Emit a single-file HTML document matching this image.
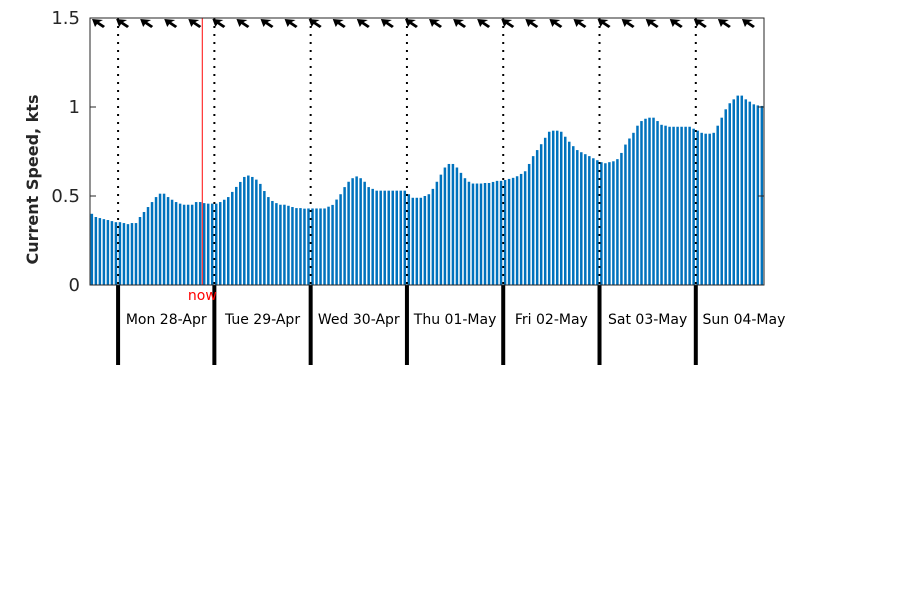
<!DOCTYPE html>
<html><head><meta charset="utf-8"><style>
body{margin:0;background:#fff;}
svg{display:block;font-family:"DejaVu Sans","Liberation Sans",sans-serif;}
</style></head><body>
<svg id="chart" width="900" height="600"></svg>
<script>
const speeds=[.40,.382,.376,.370,.365,.359,.353,.353,.348,.342,.348,.348,.382,.41,.438,.466,.494,.513,.513,.494,.479,.466,.457,.451,.451,.451,.466,.466,.46,.457,.457,.457,.466,.479,.494,.523,.551,.579,.607,.615,.607,.592,.568,.528,.494,.472,.46,.451,.451,.445,.438,.432,.432,.429,.43,.43,
.43,.43,.43,.44,.45,.48,.51,.55,.58,.60,.61,.60,.58,.55,.54,.53,.53,.53,.53,.53,.53,.53,.53,
.51,.49,.49,.49,.50,.51,.54,.58,.62,.66,.68,.68,.66,.63,.60,.58,.57,.57,.57,
.573,.573,.579,.585,.585,.590,.596,.602,.611,.624,.639,.680,.724,.758,.791,.827,.861,.867,.867,.861,.833,.805,.780,.758,.746,.735,.724,.712,.701,.690,.684,.690,.695,.707,.742,.789,.823,.855,.895,.921,.934,.940,.940,.921,.900,.895,.889,.889,.889,.889,.889,.889,.878,.867,.855,.850,.850,.855,.895,.940,.987,1.021,1.043,1.064,1.064,1.043,1.030,1.015,1.009,1.006];
const dayLabels=["Mon 28-Apr","Tue 29-Apr","Wed 30-Apr","Thu 01-May","Fri 02-May","Sat 03-May","Sun 04-May"];
const yTicks=[0,0.5,1,1.5];
const startHour=-7;
const nowHour=21;
const NS="http://www.w3.org/2000/svg";
const svg=document.getElementById('chart');
const L=90,R=764,T=18,B=285;
const nH=speeds.length;
const xs=h=>L+(h-startHour)*(R-L)/nH;
const ys=v=>B-v*(B-T)/1.5;
function mk(t,a,p){const e=document.createElementNS(NS,t);for(const k in a)e.setAttribute(k,a[k]);(p||svg).appendChild(e);return e;}
speeds.forEach((v,i)=>{const x=xs(startHour+i);
 const r=mk('rect',{x:x+0.6,y:ys(v),width:2.5,height:B-ys(v),fill:'#0072BD'});
 
 });
dayLabels.forEach((d,i)=>{const x=xs(i*24);
 const l=mk('line',{x1:x,y1:T,x2:x,y2:B,stroke:'#000','stroke-width':2,'stroke-dasharray':'2,6'});
 
 const t=mk('line',{x1:x,y1:B,x2:x,y2:365,stroke:'#000','stroke-width':4});
 
 const tx=mk('text',{x:xs(i*24+12),y:324,'font-size':14,'text-anchor':'middle',fill:'#000'});
 tx.textContent=d;});
const nx=xs(nowHour);
const nl=mk('line',{x1:nx,y1:T,x2:nx,y2:B,stroke:'#ff3030','stroke-width':1.2});

const nt=mk('text',{x:nx,y:300,'font-size':14,'text-anchor':'middle',fill:'#ff0000'});
nt.textContent='now';
for(let h=startHour+2;h<startHour+nH;h+=6){const x=xs(h);
 const a=mk('polygon',{points:`${x-6},${T+1} ${x+5},${T+2} ${x+1},${T+4} ${x+7},${T+8} ${x+5},${T+10} ${x-1},${T+6} ${x-3},${T+9}`,fill:'#000'});
 }
const bx=mk('rect',{x:L,y:T,width:R-L,height:B-T,fill:'none',stroke:'#262626','stroke-width':1});

yTicks.forEach(v=>{const y=ys(v);
 mk('line',{x1:L,y1:y,x2:L+6,y2:y,stroke:'#262626'});
 mk('line',{x1:R-6,y1:y,x2:R,y2:y,stroke:'#262626'});
 const t=mk('text',{x:L-10,y:y+6,'font-size':18,'text-anchor':'end',fill:'#262626'});
 t.textContent=v;});
const yl=mk('text',{x:38,y:(T+B)/2+28,'font-size':16,'font-weight':'bold','text-anchor':'middle',fill:'#262626',transform:`rotate(-90 38 ${(T+B)/2+28})`});
yl.textContent='Current Speed, kts';
</script>
</body></html>
